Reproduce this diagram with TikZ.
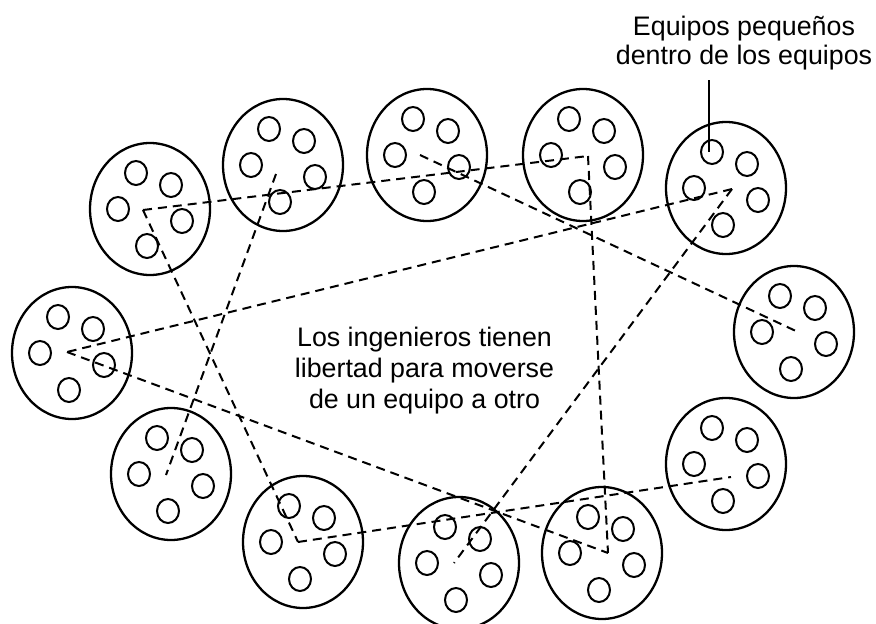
\documentclass[tikz,border=0pt]{standalone}
\usepackage{fontspec}
\setmainfont{Liberation Sans}
\usetikzlibrary{shapes.geometric}
\begin{document}
\begin{tikzpicture}[x=1pt,y=-1pt,
  team/.style={ellipse,draw,line width=2.3pt,minimum width=120pt,minimum height=132pt,inner sep=0pt},
  sub/.style={ellipse,draw,line width=2pt,minimum width=22pt,minimum height=24pt,inner sep=0pt},
  link/.style={dash pattern=on 9pt off 6pt,line width=2pt},
  lbl/.style={font=\fontsize{26.8}{31}\selectfont,anchor=base,inner sep=0pt},
  pointer/.style={line width=2.2pt}]
\useasboundingbox (0,0) rectangle (876,624);
\foreach \n/\x/\y in {A/150/209,B/283/165,C/427/155,D/583/155,E/726/188,F/794/332,G/726/464,H/602/553,I/459/563,J/303/542,K/171/474,L/72/353}{
  \node[team] (\n) at (\x,\y) {};
  \foreach \i/\dx/\dy in {1/-14/-36,2/21/-24,3/-32/0,4/32/12,5/-3/37}
    \node[sub] (\n\i) at (\x+\dx,\y+\dy) {};
}
% hubs of the dashed paths
\coordinate (hA) at (143,210);
\coordinate (hB) at (276,174);
\coordinate (hC) at (420,155);
\coordinate (hD) at (588,156);
\coordinate (hE) at (732,189);
\coordinate (hF) at (798,332);
\coordinate (hG) at (731,477);
\coordinate (hH) at (608,553);
\coordinate (hI) at (454,563);
\coordinate (hJ) at (298,542);
\coordinate (hK) at (166,475);
\coordinate (hL) at (67,352);
\draw[link] (hA) -- (hD);
\draw[link] (hA) -- (hJ);
\draw[link] (hB) -- (hK);
\draw[link] (hC) -- (hF);
\draw[link] (hD) -- (hH);
\draw[link] (hE) -- (hL);
\draw[link] (hE) -- (hI);
\draw[link] (hL) -- (hH);
\draw[link] (hJ) -- (hG);
% texts
\node[lbl] (t1) at (424.5,346) {Los ingenieros tienen};
\node[lbl] (t2) at (424.5,377.5) {libertad para moverse};
\node[lbl] (t3) at (424.5,408) {de un equipo a otro};
\node[lbl] (l1) at (744,35) {Equipos pequeños};
\node[lbl] (l2) at (744,64) {dentro de los equipos};
\coordinate (ptr) at (709,80);
\draw[pointer] (ptr) -- (ptr |- E1.center);
\end{tikzpicture}
\end{document}
